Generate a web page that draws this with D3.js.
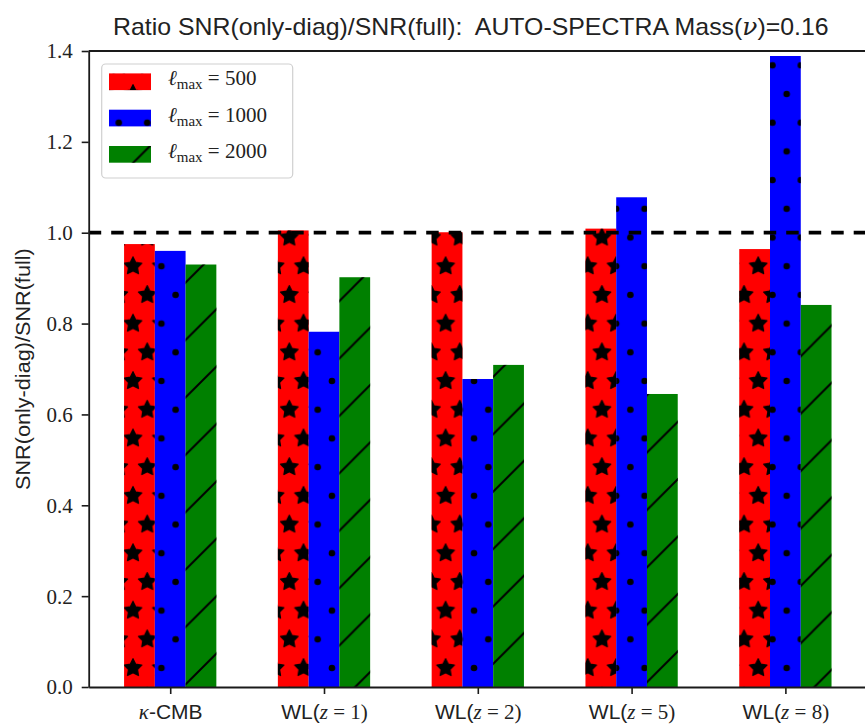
<!DOCTYPE html>
<html>
<head>
<meta charset="utf-8">
<script src="https://cdn.jsdelivr.net/npm/d3@7"></script>
<style>
  body { margin: 0; background: #fff; }
  svg { display: block; }
  text { white-space: pre; }
</style>
</head>
<body>
<svg id="chart" width="865" height="728"></svg>
<script>
// ---- data ----
const categories = ["κ-CMB", "WL(z = 1)", "WL(z = 2)", "WL(z = 5)", "WL(z = 8)"];
const lmax500  = [0.975, 1.005, 1.001, 1.009, 0.964];
const lmax1000 = [0.960, 0.782, 0.678, 1.078, 1.389];
const lmax2000 = [0.930, 0.902, 0.709, 0.645, 0.841];
const seriesNames = ["500", "1000", "2000"];
const yTicks = [0.0, 0.2, 0.4, 0.6, 0.8, 1.0, 1.2, 1.4];
const referenceLevel = 1.0;

const series = [
  { name: seriesNames[0], values: lmax500,  color: "#ff0000", hatch: "hatch-star" },
  { name: seriesNames[1], values: lmax1000, color: "#0000ff", hatch: "hatch-dot" },
  { name: seriesNames[2], values: lmax2000, color: "#008000", hatch: "hatch-slash" }
];

// ---- layout ----
const plot = { left: 88.7, right: 866.9, top: 51, bottom: 687 };
const barWidth = 0.2;

const svg = d3.select("#chart");

const x = d3.scaleLinear().domain([-0.53, categories.length - 1 + 0.53]).range([plot.left, plot.right]);
const y = d3.scaleLinear().domain([0, 1.4]).range([plot.bottom, plot.top]);

// ---- hatch patterns (anchored to the canvas, shared by bars and legend) ----
const cellX = 28.42, rowY = 28.7;
const defs = svg.append("defs");

function starPath(cx, cy, r) {
  const pts = [];
  for (let i = 0; i < 10; i++) {
    const a = -Math.PI / 2 + i * Math.PI / 5;
    const rr = i % 2 === 0 ? r : r * 0.5;
    pts.push([cx + rr * Math.cos(a), cy + rr * Math.sin(a)]);
  }
  return "M" + pts.map(p => p.join(",")).join("L") + "Z";
}
const lattice = [[0, 0], [cellX, 0], [0, 2 * rowY], [cellX, 2 * rowY], [cellX / 2, rowY]];

const starPat = defs.append("pattern").attr("id", "hatch-star")
  .attr("patternUnits", "userSpaceOnUse")
  .attr("x", 133).attr("y", 668).attr("width", cellX).attr("height", 2 * rowY);
lattice.forEach(([cx, cy]) => starPat.append("path").attr("d", starPath(cx, cy, 9.2))
  .attr("fill", "#000").attr("stroke", "#000").attr("stroke-width", 1.3).attr("stroke-linejoin", "round"));

const dotPat = defs.append("pattern").attr("id", "hatch-dot")
  .attr("patternUnits", "userSpaceOnUse")
  .attr("x", 133).attr("y", 668).attr("width", cellX).attr("height", 2 * rowY);
lattice.forEach(([cx, cy]) => dotPat.append("circle").attr("cx", cx).attr("cy", cy).attr("r", 3.3).attr("fill", "#000"));

const s = 2 * rowY;
defs.append("pattern").attr("id", "hatch-slash")
  .attr("patternUnits", "userSpaceOnUse")
  .attr("x", 9).attr("y", 0).attr("width", s).attr("height", s)
  .append("path")
  .attr("d", `M0,${s}L${s},0M${-s/10},${s/10}L${s/10},${-s/10}M${s - s/10},${s + s/10}L${s + s/10},${s - s/10}`)
  .attr("stroke", "#000").attr("stroke-width", 2).attr("fill", "none");

// ---- bars ----
const barsG = svg.append("g");
series.forEach((sr, si) => {
  const offset = (si - 1) * barWidth;
  const g = barsG.append("g");
  const rects = (fill) => g.append("g").selectAll("rect").data(sr.values).join("rect")
    .attr("x", (d, i) => x(i + offset - barWidth / 2))
    .attr("width", (d, i) => x(i + offset + barWidth / 2) - x(i + offset - barWidth / 2))
    .attr("y", d => y(d))
    .attr("height", d => y(0) - y(d))
    .attr("fill", fill);
  rects(sr.color);
  rects(`url(#${sr.hatch})`);
});

// ---- reference line ----
svg.append("line")
  .attr("x1", plot.left).attr("x2", plot.right)
  .attr("y1", y(referenceLevel)).attr("y2", y(referenceLevel))
  .attr("stroke", "#000").attr("stroke-width", 3.8)
  .attr("stroke-dasharray", "12.5,10");

// ---- axes ----
const axisColor = "#1a1a1a";
const yAxis = svg.append("g").attr("transform", `translate(${plot.left},0)`)
  .call(d3.axisLeft(y).tickValues(yTicks).tickFormat(d3.format(".1f")).tickSize(7).tickSizeOuter(0).tickPadding(9));
yAxis.selectAll("path.domain").attr("stroke", axisColor).attr("stroke-width", 1.8);
yAxis.selectAll(".tick line").attr("stroke", axisColor).attr("stroke-width", 1.6);
yAxis.selectAll(".tick text")
  .attr("font-family", "'Liberation Serif', 'DejaVu Serif', serif")
  .attr("font-size", 21).attr("fill", "#222").attr("dy", "0.33em");

const xAxis = svg.append("g").attr("transform", `translate(0,${plot.bottom})`)
  .call(d3.axisBottom(x).tickValues(d3.range(categories.length)).tickFormat(() => "").tickSize(7).tickSizeOuter(0));
xAxis.selectAll("path.domain").attr("stroke", axisColor).attr("stroke-width", 1.8);
xAxis.selectAll(".tick line").attr("stroke", axisColor).attr("stroke-width", 1.6);

// category labels: roman letters in sans, math symbols in italic serif
const sansFont = "'Liberation Sans Narrow', 'Liberation Sans', 'DejaVu Sans', sans-serif";
const serifFont = "'Liberation Serif', 'DejaVu Serif', serif";
const mathFont = "'DejaVu Serif', 'Liberation Serif', serif";
function labelParts(label) {
  const m = label.match(/^WL\((z)( = )(\d)\)$/);
  if (m) return [["WL(", sansFont, "normal"], ["z", serifFont, "italic"], [" = " + m[3] + ")", serifFont, "normal"]];
  return [["κ", serifFont, "italic"], [label.slice(1), sansFont, "normal"]];
}
xAxis.selectAll(".tick").each(function (d) {
  const t = d3.select(this).select("text")
    .attr("y", 32).attr("dy", 0).attr("font-size", 21).attr("fill", "#222")
    .attr("text-anchor", "middle");
  t.text(null);
  labelParts(categories[d]).forEach(([txt, font, style]) => {
    t.append("tspan").attr("font-family", font).attr("font-style", style).text(txt);
  });
});

// top spine
svg.append("line")
  .attr("x1", plot.left).attr("x2", plot.right)
  .attr("y1", plot.top).attr("y2", plot.top)
  .attr("stroke", axisColor).attr("stroke-width", 1.8);

// ---- text fitted to a given width ----
function fitText(sel, width) {
  const w = sel.node().getBBox().width;
  return w > 0 ? width / w : 1;
}

// title
const title = svg.append("text").attr("x", 0).attr("y", 0)
  .attr("font-family", sansFont).attr("font-size", 24).attr("fill", "#222");
title.append("tspan").text("Ratio SNR(only-diag)/SNR(full):  AUTO-SPECTRA Mass(");
title.append("tspan").attr("font-family", mathFont).attr("font-style", "italic").text("ν");
title.append("tspan").text(")=0.16");
const ts = fitText(title, 716);
title.attr("transform", `translate(113,35) scale(${ts},1)`);

// y label
const ylab = svg.append("text").attr("x", 0).attr("y", 0)
  .attr("font-family", sansFont).attr("font-size", 20).attr("fill", "#222")
  .text("SNR(only-diag)/SNR(full)");
const ys = fitText(ylab, 242);
ylab.attr("transform", `translate(30,${(plot.top + plot.bottom) / 2 + 121}) rotate(-90) scale(${ys},1)`);

// ---- legend ----
const legend = svg.append("g");
legend.append("rect")
  .attr("x", 101.7).attr("y", 64).attr("width", 191).attr("height", 114)
  .attr("rx", 4).attr("fill", "#fff").attr("fill-opacity", 0.85)
  .attr("stroke", "#d0d0d0").attr("stroke-width", 1.2);
series.forEach((sr, i) => {
  const cy = 81.7 + i * 36.3;
  legend.append("rect").attr("x", 109).attr("y", cy - 8.3).attr("width", 42).attr("height", 16.7).attr("fill", sr.color);
  legend.append("rect").attr("x", 109).attr("y", cy - 8.3).attr("width", 42).attr("height", 16.7).attr("fill", `url(#${sr.hatch})`);
  const t = legend.append("text").attr("x", 168).attr("y", cy + 3.5)
    .attr("font-family", serifFont).attr("font-size", 21).attr("fill", "#222");
  t.append("tspan").attr("font-family", mathFont).attr("font-style", "italic").text("ℓ");
  t.append("tspan").attr("font-size", 15).attr("dy", 4).text("max");
  t.append("tspan").attr("dy", -4).text(" = " + sr.name);
});
</script>
</body>
</html>
